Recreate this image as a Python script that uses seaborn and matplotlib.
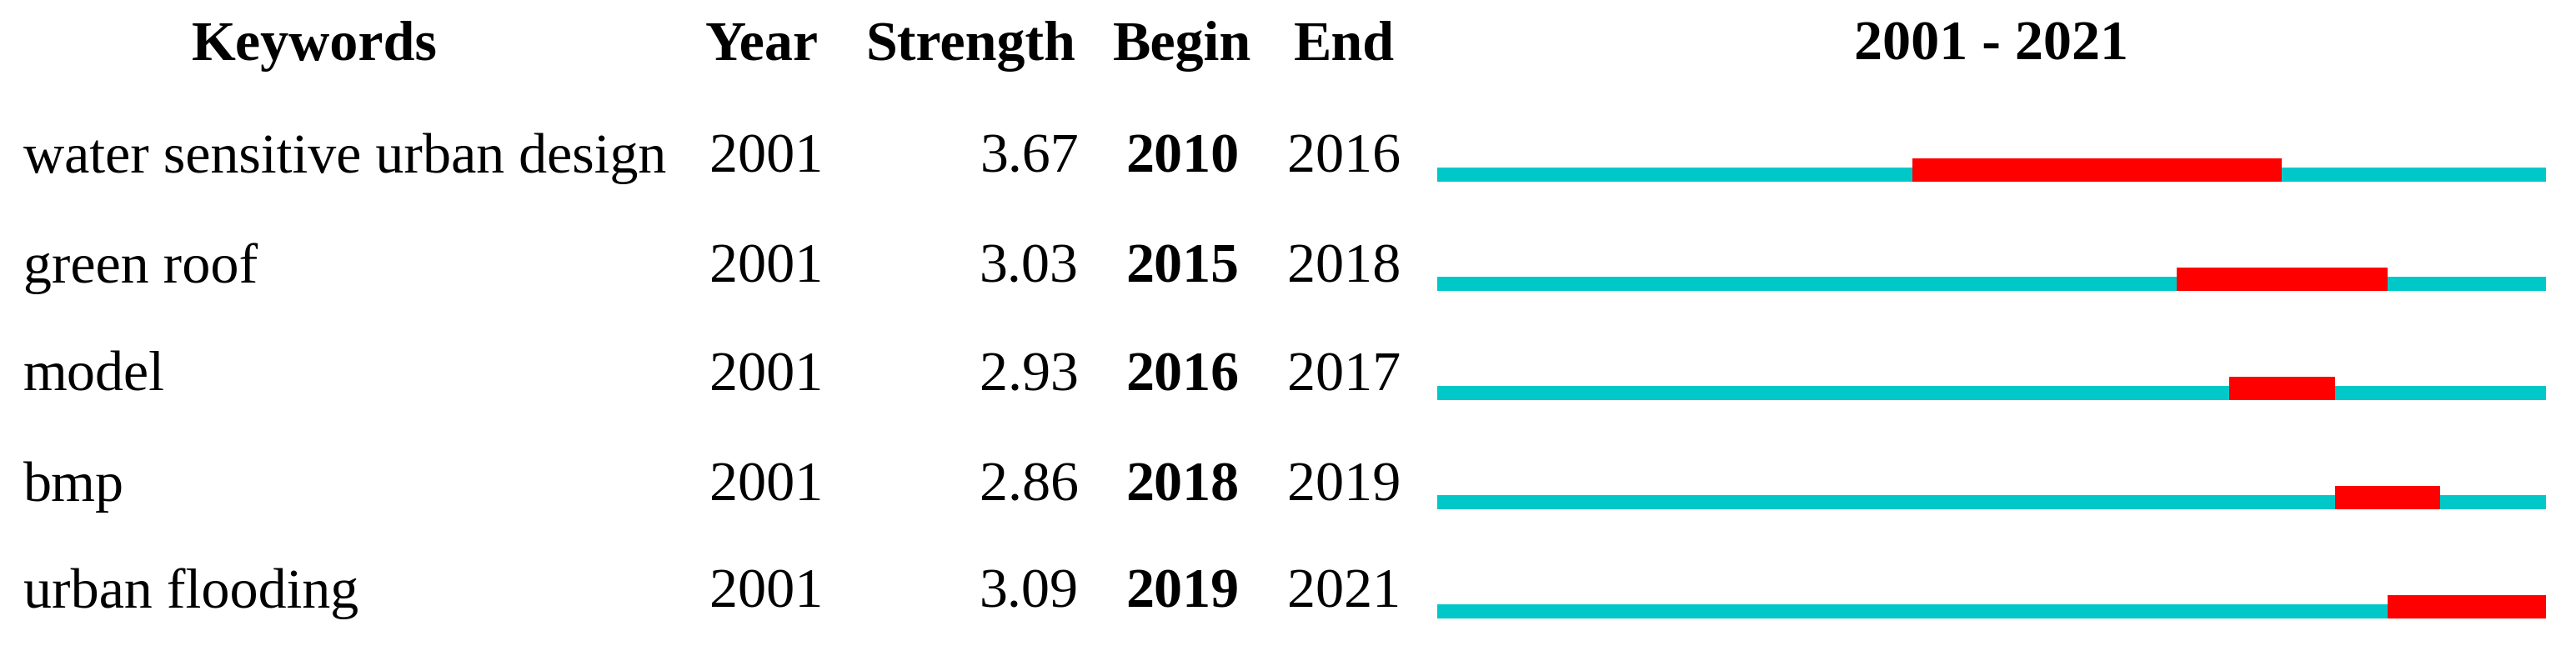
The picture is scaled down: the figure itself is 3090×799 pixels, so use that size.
import matplotlib.pyplot as plt
import seaborn as sns

sns.set_theme(style="white")
plt.rcParams['font.family'] = ['Liberation Serif', 'DejaVu Serif']
plt.rcParams['text.color'] = 'black'

keywords = ["water sensitive urban design", "green roof", "model", "bmp", "urban flooding"]
years = [2001, 2001, 2001, 2001, 2001]
strength = [3.67, 3.03, 2.93, 2.86, 3.09]
begin = [2010, 2015, 2016, 2018, 2019]
end = [2016, 2018, 2017, 2019, 2021]
first_year, last_year = 2001, 2021

fig = plt.figure(figsize=(30.9, 7.99), dpi=100)
tx = fig.add_axes([0, 0, 1, 1])
tx.set_xlim(0, 3090)
tx.set_ylim(799, 0)
tx.axis("off")

fs = 49
row_y = [190, 322, 452, 584, 712]
head_y = 55
tx.text(377, head_y, "Keywords", ha="center", va="center", fontsize=fs, fontweight="bold")
tx.text(914, head_y, "Year", ha="center", va="center", fontsize=fs, fontweight="bold")
tx.text(1164, head_y, "Strength", ha="center", va="center", fontsize=fs, fontweight="bold")
tx.text(1418, head_y, "Begin", ha="center", va="center", fontsize=fs, fontweight="bold")
tx.text(1612, head_y, "End", ha="center", va="center", fontsize=fs, fontweight="bold")
tx.text(2388, head_y, f"{first_year} - {last_year}", ha="center", va="center", fontsize=fs, fontweight="bold")

for i, y in enumerate(row_y):
    tx.text(28, y, keywords[i], ha="left", va="center", fontsize=fs)
    tx.text(851, y, str(years[i]), ha="left", va="center", fontsize=fs)
    tx.text(1294, y, f"{strength[i]:.2f}", ha="right", va="center", fontsize=fs)
    tx.text(1418, y, str(begin[i]), ha="center", va="center", fontsize=fs, fontweight="bold")
    tx.text(1612, y, str(end[i]), ha="center", va="center", fontsize=fs)

# timeline axes
bx = fig.add_axes([1724 / 3090, 0, (3054 - 1724) / 3090, 1])
bx.set_xlim(first_year, last_year + 1)
bx.set_ylim(799, 0)
bx.axis("off")
bx.patch.set_alpha(0)
bar_bottom = [218, 349, 480, 611, 742]
for i, yb in enumerate(bar_bottom):
    bx.barh(yb - 8.5, last_year + 1 - first_year, left=first_year, height=17,
            color="#00C8C8", edgecolor="none")
    bx.barh(yb - 14, end[i] + 1 - begin[i], left=begin[i], height=28,
            color="#FF0000", edgecolor="none")

fig.savefig("out.png", dpi=100)
